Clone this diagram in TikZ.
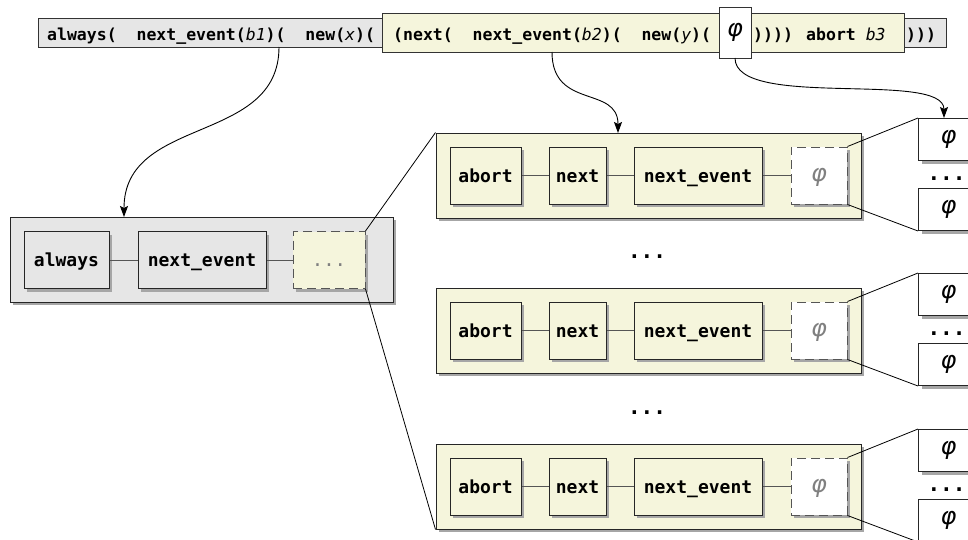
\documentclass[tikz,border=0pt]{standalone}
\usepackage{fontspec}
\setmonofont{DejaVu Sans Mono}
\newfontfamily\phifont{DejaVu Sans}
\usetikzlibrary{arrows.meta, shadows}

\definecolor{panelgray}{HTML}{E6E6E6}
\definecolor{panelyellow}{HTML}{F5F5DC}
\definecolor{edgegray}{HTML}{555555}

\newcommand{\phisym}{{\phifont\itshape φ}}
\newcommand{\codevar}[1]{{\mdseries\itshape #1}}

\begin{document}
\begin{tikzpicture}[x=1pt, y=-1pt, >={Stealth[length=11pt, width=8pt, inset=2pt]}]

  % Styles for the formula bar, the operator boxes and the zoom lines
  \tikzset{
    code/.style={font=\ttfamily\bfseries\fontsize{16.5}{20}\selectfont, inner sep=0pt, anchor=base west},
    barpart/.style={draw=black!80, line width=1pt, fill=#1, inner sep=0pt},
    panel/.style={draw=black!85, line width=1pt, fill=#1, minimum height=85pt, inner sep=0pt,
      drop shadow={shadow xshift=3pt, shadow yshift=-3pt, fill=black!35, opacity=1}},
    opbox/.style={draw=black!85, line width=1pt, fill=#1, minimum height=57pt, inner sep=0pt,
      font=\ttfamily\bfseries\fontsize{18}{22}\selectfont, text height=13pt, text depth=0pt,
      drop shadow={shadow xshift=3pt, shadow yshift=-3pt, fill=black!35, opacity=1}},
    holebox/.style={opbox=#1, draw=edgegray, dash pattern=on 9pt off 5pt, text=gray},
    leaf/.style={draw=black!85, line width=1pt, fill=white, minimum width=60pt, minimum height=42pt,
      inner sep=0pt, font=\fontsize{24}{28}\selectfont,
      drop shadow={shadow xshift=3pt, shadow yshift=-3pt, fill=black!35, opacity=1}},
    gap/.style={font=\ttfamily\bfseries\fontsize{21}{24}\selectfont, inner sep=0pt},
    link/.style={draw=edgegray, line width=1pt},
    zoomline/.style={black, line width=0.8pt},
    flow/.style={->, black, line width=0.9pt}
  }

  \useasboundingbox (0,0) rectangle (968,539);
  \clip (0,0) rectangle (968,539);

  % 1. Formula bar
  \node[barpart=panelgray, minimum width=908pt, minimum height=29pt] (bar) at (492,32.5) {};
  \node[barpart=panelyellow, minimum width=522pt, minimum height=39pt] (barnext) at (643,32.5) {};
  \node[barpart=white, minimum width=32pt, minimum height=51pt, font=\fontsize{24}{28}\selectfont] (barphi) at (735,32.5) {\phisym};

  \node[code] (always text) at (47,40.5) {always(~~next\_event(\codevar{b1})(~~new(\codevar{x})(};
  \node[code] (next text) at (393,40.5) {(next(~~next\_event(\codevar{b2})(~~new(\codevar{y})(};
  \node[code] (close text) at (753,40.5) {))))};
  \node[code] (abort text) at (806,40.5) {abort~\codevar{b3}};
  \node[code] (end text) at (906,40.5) {)))};

  % 2. Outer operator chain
  \node[panel=panelgray, minimum width=383pt] (lbox) at (201.5,259.5) {};
  \node[opbox=panelgray, minimum width=85pt] (always) at (66.5,260) {always};
  \node[opbox=panelgray, minimum width=128pt] (evt) at (202,260) {next\_event};
  \node[holebox=panelyellow, minimum width=72pt, font=\ttfamily\fontsize{19}{22}\selectfont] (rest) at (329,260) {...};
  \draw[link] (always) -- (evt);
  \draw[link] (evt) -- (rest);

  % 3. Unfolded copies of the inner operator chain
  \foreach \i/\y in {1/175.5, 2/330.5, 3/486.5} {
    \node[panel=panelyellow, minimum width=425pt] (row\i) at (648.5,\y) {};
    \node[opbox=panelyellow, minimum width=71pt] (abort\i) at (485.5,\y) {abort};
    \node[opbox=panelyellow, minimum width=57pt] (next\i) at (577.5,\y) {next};
    \node[opbox=panelyellow, minimum width=128pt] (event\i) at (698,\y) {next\_event};
    \node[holebox=white, minimum width=56pt, font=\fontsize{24}{28}\selectfont, text height=17pt, text depth=6pt] (hole\i) at (819,\y) {\phisym};
    \draw[link] (abort\i) -- (next\i) -- (event\i) -- (hole\i);

    % formulas plugged into the hole
    \node[leaf, anchor=north west] (top\i) at (918,\y-57.5) {\phisym};
    \node[leaf, anchor=south west] (bot\i) at (918,\y+55.5) {\phisym};
    \node[gap] (more\i) at (946.5,\y+3) {...};
    \draw[zoomline] (hole\i.north east) -- (top\i.north west);
    \draw[zoomline] (hole\i.south east) -- (bot\i.south west);
  }

  \node[gap] (skip1) at (647,257) {...};
  \node[gap] (skip2) at (647,413) {...};

  % --- ZOOM LINES ---
  \draw[zoomline] (rest.north east) -- (row1.north west);
  \draw[zoomline] (rest.south east) -- (row3.south west);

  % --- ARROWS FROM THE FORMULA BAR ---
  \coordinate (src1) at (279,47);
  \coordinate (src2) at (552,52);
  \coordinate (src3) at (735,58);
  \coordinate (dst1) at (124,217);
  \coordinate (dst2) at (618,133);
  \coordinate (dst3) at (944,118);

  \draw[flow] (src1) .. controls (279,145) and (124,115) .. (dst1);
  \draw[flow] (src2) .. controls (552,110) and (618,85) .. (dst2);
  \draw[flow] (src3) .. controls (735,110) and (944,70) .. (dst3);

\end{tikzpicture}
\end{document}
